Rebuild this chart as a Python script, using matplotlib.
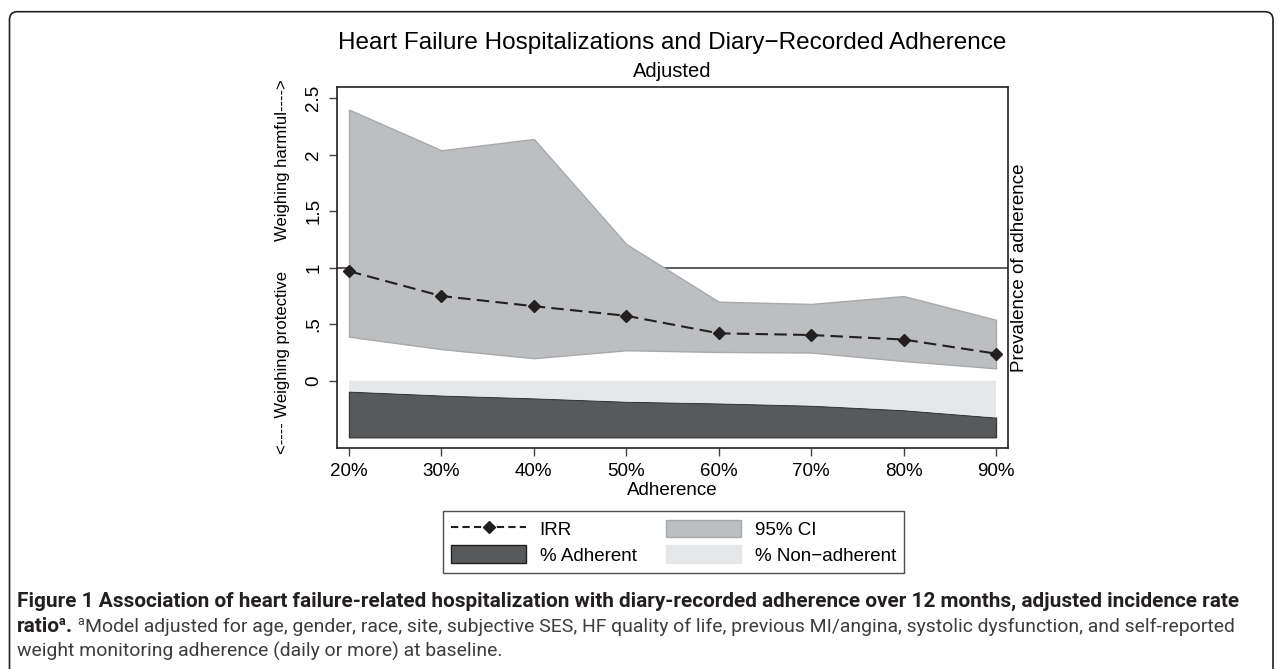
import matplotlib
matplotlib.use('Agg')
import matplotlib.pyplot as plt
from matplotlib.lines import Line2D
from matplotlib.patches import Patch, FancyBboxPatch

# values
adherence = [20, 30, 40, 50, 60, 70, 80, 90]
irr = [0.97, 0.75, 0.66, 0.575, 0.42, 0.405, 0.365, 0.24]
ci_lower = [0.39, 0.28, 0.20, 0.27, 0.255, 0.25, 0.175, 0.11]
ci_upper = [2.40, 2.04, 2.14, 1.21, 0.70, 0.68, 0.75, 0.54]
pct_adherent = [81, 74, 69, 63, 60, 56, 48, 35]
xtick_labels = ['%d%%' % a for a in adherence]
yticks = [0, 0.5, 1, 1.5, 2, 2.5]
ytick_labels = ['0', '.5', '1', '1.5', '2', '2.5']

caption1 = ('Figure 1 Association of heart failure-related hospitalization with diary-recorded '
            'adherence over 12 months, adjusted incidence rate')
caption2 = ('Model adjusted for age, gender, race, site, subjective SES, HF quality of life, '
            'previous MI/angina, systolic dysfunction, and self-reported')
caption3 = 'weight monitoring adherence (daily or more) at baseline.'

plt.rcParams['font.family'] = ['Liberation Sans', 'DejaVu Sans']
cap_font = ['Roboto', 'Liberation Sans', 'DejaVu Sans']

W, H = 1282, 669
fig = plt.figure(figsize=(W / 100, H / 100), dpi=100)
ax = fig.add_axes([337 / W, 1 - 448 / H, (1008 - 337) / W, (448 - 87) / H])

dark = '#231f20'
ci_face = '#bcbec0'
adh_face = '#58595b'
non_face = '#e6e7e8'

# prevalence band lives in [-0.5, 0] of the IRR axis
base = -0.5
adh_top = [base + 0.5 * p / 100 for p in pct_adherent]
ax.fill_between(adherence, base, adh_top, facecolor=adh_face, edgecolor='#3a3a3c', lw=1, zorder=2)
ax.fill_between(adherence, adh_top, 0, facecolor=non_face, lw=0, zorder=2)

ax.axhline(1, color='#414042', lw=1.2, zorder=1)
ax.fill_between(adherence, ci_lower, ci_upper, facecolor=ci_face, edgecolor='#a7a9ac', lw=1, zorder=2)
ax.plot(adherence, irr, color=dark, lw=1.5, ls=(0, (6, 3)), marker='D', ms=6, zorder=4)

ax.set_xlim(18.7, 91.3)
ax.set_ylim(-0.595, 2.6)
ax.set_xticks(adherence)
ax.set_xticklabels(xtick_labels, fontsize=13.5)
ax.set_yticks(yticks)
ax.set_yticklabels(ytick_labels, fontsize=13.5, rotation=90, va='center')
ax.tick_params(length=5.5, width=1, color='#414042', pad=5)
for s in ax.spines.values():
    s.set_color(dark)
    s.set_linewidth(1.2)
ax.set_xlabel('Adherence', fontsize=13.5, labelpad=2)

fig.text(282 / W, 1 - 160 / H, 'Weighing harmful---->', rotation=90, ha='center', va='center', fontsize=12)
fig.text(282 / W, 1 - 362 / H, '<---- Weighing protective', rotation=90, ha='center', va='center', fontsize=12)
fig.text(1020 / W, 1 - 268 / H, 'Prevalence of adherence', rotation=90, ha='center', va='center', fontsize=13.5)

fig.text(672.5 / W, 1 - 49 / H, 'Heart Failure Hospitalizations and Diary\u2212Recorded Adherence',
         ha='center', va='baseline', fontsize=17.5)
fig.text(672.5 / W, 1 - 77 / H, 'Adjusted', ha='center', va='baseline', fontsize=14.5)

handles = [
    Line2D([], [], color=dark, lw=1.5, ls=(0, (3.5, 2)), marker='D', ms=6),
    Patch(facecolor=adh_face, edgecolor=dark, lw=1),
    Patch(facecolor=ci_face, edgecolor='#a7a9ac', lw=1),
    Patch(facecolor=non_face, edgecolor=non_face, lw=1),
]
labels = ['IRR', '% Adherent', '95% CI', '% Non\u2212adherent']
leg = fig.legend(handles, labels, ncol=2, loc='lower left', bbox_to_anchor=(443 / W, 1 - 573 / H),
                 frameon=True, fancybox=False, edgecolor=dark, fontsize=13.5, handlelength=4,
                 handleheight=1.05, handletextpad=0.7, columnspacing=1.6, borderpad=0.45,
                 labelspacing=0.35, borderaxespad=0, numpoints=1)
leg.get_frame().set_linewidth(1)

# caption: font sizes chosen so the lines end where the printed ones do
renderer = fig.canvas.get_renderer()
x0 = 17
t1 = fig.text(x0 / W, 1 - 607 / H, caption1, family=cap_font, fontweight='bold', fontsize=14,
              color=dark, va='baseline')
bsize = 14 * (1243 - x0) / t1.get_window_extent(renderer).width
t1.set_fontsize(bsize)


def put(x, y, s, fs, **kw):
    t = fig.text(x / W, 1 - y / H, s, family=cap_font, fontsize=fs, va='baseline', **kw)
    return t, t.get_window_extent(renderer).x1


y2 = 632
_, x = put(x0, y2, 'ratio', bsize, fontweight='bold', color=dark)
_, x = put(x - 1, y2 - 7, 'a', bsize * 0.6, fontweight='bold', color=dark)
_, x = put(x, y2, '. ', bsize, fontweight='bold', color=dark)
_, x = put(x + 1, y2 - 7, 'a', bsize * 0.6, color='#3d3d3d')
t2, x_end = put(x, y2, caption2, bsize, color='#3d3d3d')
nsize = bsize * (1235 - x) / (x_end - x)
t2.set_fontsize(nsize)
put(x0, 657, caption3, nsize, color='#3d3d3d')

box = FancyBboxPatch((0.095, -0.3), 12.73 - 0.095, 6.573 + 0.3,
                     boxstyle='round,pad=0,rounding_size=0.08', transform=fig.dpi_scale_trans,
                     fill=False, edgecolor=dark, lw=1.2)
fig.add_artist(box)

fig.savefig('out.png', dpi=100)
